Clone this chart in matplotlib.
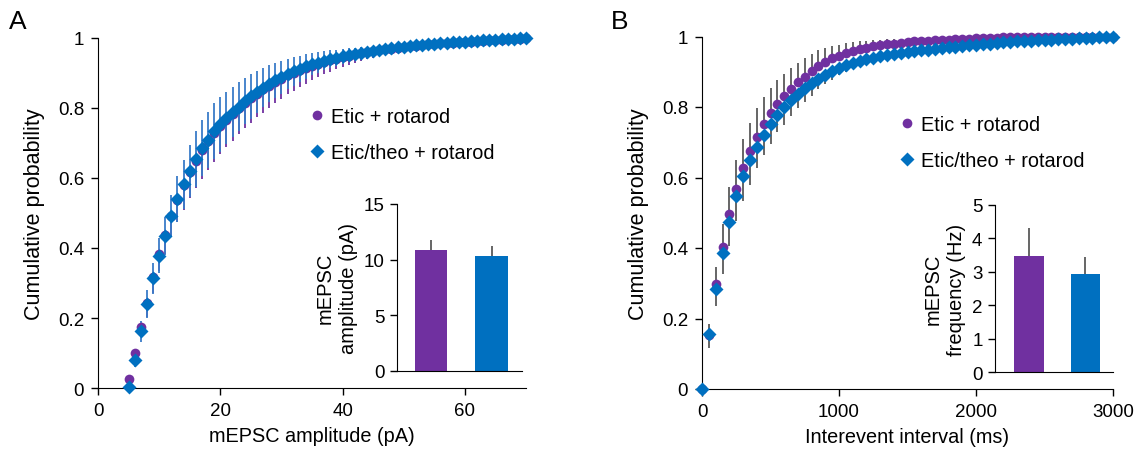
import numpy as np
import matplotlib
matplotlib.use("Agg")
import matplotlib.pyplot as plt
from matplotlib.lines import Line2D

plt.rcParams['font.family'] = ['Liberation Sans', 'DejaVu Sans']

purple = '#7030A0'
blue = '#0070C0'
grey = '#595959'

# panel A: cumulative mEPSC amplitude, 5..70 pA
amp_x = list(range(5, 71))
amp_etic = [0.026, 0.10, 0.175, 0.243, 0.316, 0.383, 0.438, 0.492, 0.538, 0.579, 0.617, 0.650,
            0.680, 0.705, 0.728, 0.748, 0.766, 0.783, 0.799, 0.814, 0.828, 0.841, 0.853, 0.864,
            0.874, 0.884, 0.893, 0.901, 0.908, 0.915, 0.921, 0.927, 0.932, 0.937, 0.941, 0.945,
            0.949, 0.953, 0.956, 0.959, 0.962, 0.965, 0.968, 0.970, 0.972, 0.974, 0.976, 0.978,
            0.980, 0.982, 0.983, 0.985, 0.986, 0.987, 0.988, 0.989, 0.990, 0.991, 0.992, 0.993,
            0.994, 0.995, 0.996, 0.997, 0.998, 1.0]
amp_theo = [0.002, 0.08, 0.162, 0.240, 0.313, 0.378, 0.435, 0.492, 0.540, 0.582, 0.620, 0.655,
            0.685, 0.710, 0.733, 0.753, 0.771, 0.788, 0.804, 0.819, 0.833, 0.846, 0.858, 0.869,
            0.879, 0.888, 0.897, 0.905, 0.912, 0.919, 0.925, 0.930, 0.935, 0.940, 0.944, 0.948,
            0.952, 0.955, 0.958, 0.961, 0.964, 0.967, 0.969, 0.971, 0.973, 0.975, 0.977, 0.979,
            0.981, 0.983, 0.984, 0.986, 0.987, 0.988, 0.989, 0.990, 0.991, 0.992, 0.993, 0.994,
            0.995, 0.996, 0.997, 0.998, 0.999, 1.0]
amp_etic_err = [0.01, 0.02, 0.03, 0.04, 0.045, 0.05, 0.055, 0.06, 0.065, 0.07, 0.075, 0.08,
                0.082, 0.082, 0.082, 0.08, 0.078, 0.076, 0.074, 0.072, 0.07, 0.068, 0.066, 0.063,
                0.06, 0.057, 0.054, 0.051, 0.048, 0.045, 0.042, 0.039, 0.036, 0.033, 0.03, 0.028,
                0.026, 0.024, 0.022, 0.02, 0.018, 0.016, 0.014, 0.012, 0.01, 0.009, 0.008, 0.007,
                0.006, 0.005, 0.004, 0.004, 0.003, 0.003, 0.002, 0.002, 0.002, 0.001, 0.001, 0.001,
                0.001, 0.0, 0.0, 0.0, 0.0, 0.0]
amp_theo_err = [0.005, 0.02, 0.03, 0.04, 0.045, 0.05, 0.055, 0.06, 0.065, 0.07, 0.075, 0.08,
                0.08, 0.08, 0.08, 0.078, 0.075, 0.072, 0.07, 0.066, 0.063, 0.06, 0.056, 0.053,
                0.05, 0.047, 0.044, 0.041, 0.038, 0.035, 0.032, 0.03, 0.027, 0.025, 0.023, 0.021,
                0.019, 0.017, 0.015, 0.013, 0.011, 0.01, 0.009, 0.008, 0.007, 0.006, 0.005, 0.004,
                0.004, 0.003, 0.003, 0.002, 0.002, 0.002, 0.001, 0.001, 0.001, 0.001, 0.0, 0.0,
                0.0, 0.0, 0.0, 0.0, 0.0, 0.0]

# panel B: cumulative interevent interval, 0..3000 ms
iei_x = list(range(0, 3001, 50))
iei_etic = [0.0, 0.154, 0.297, 0.402, 0.496, 0.568, 0.626, 0.675, 0.716, 0.751, 0.782, 0.808,
            0.830, 0.851, 0.870, 0.886, 0.902, 0.916, 0.928, 0.938, 0.946, 0.953, 0.959, 0.964,
            0.968, 0.972, 0.975, 0.978, 0.980, 0.982, 0.984, 0.986, 0.987, 0.988, 0.989, 0.990,
            0.991, 0.992, 0.993, 0.994, 0.995, 0.996, 0.997, 0.997, 0.998, 0.998, 0.999, 0.999,
            1.0, 1.0, 1.0, 1.0, 1.0, 1.0, 1.0, 1.0, 1.0, 1.0, 1.0, 1.0, 1.0]
iei_theo = [0.0, 0.157, 0.285, 0.386, 0.475, 0.548, 0.604, 0.650, 0.686, 0.721, 0.751, 0.778,
            0.800, 0.820, 0.838, 0.853, 0.867, 0.880, 0.892, 0.903, 0.912, 0.919, 0.925, 0.930,
            0.935, 0.940, 0.944, 0.948, 0.951, 0.954, 0.957, 0.959, 0.961, 0.963, 0.965, 0.967,
            0.969, 0.971, 0.973, 0.975, 0.977, 0.979, 0.980, 0.982, 0.983, 0.985, 0.986, 0.987,
            0.988, 0.989, 0.990, 0.991, 0.992, 0.993, 0.994, 0.995, 0.996, 0.997, 0.998, 0.999, 1.0]
iei_etic_err = [0.0, 0.03, 0.048, 0.065, 0.077, 0.082, 0.082, 0.08, 0.08, 0.078, 0.072, 0.07,
                0.063, 0.06, 0.056, 0.052, 0.048, 0.045, 0.04, 0.035, 0.03, 0.028, 0.025, 0.022,
                0.02, 0.018, 0.016, 0.014, 0.012, 0.011, 0.01, 0.009, 0.008, 0.007, 0.006, 0.006,
                0.005, 0.005, 0.004, 0.004, 0.003, 0.003, 0.003, 0.002, 0.002, 0.002, 0.001, 0.001,
                0.0, 0.0, 0.0, 0.0, 0.0, 0.0, 0.0, 0.0, 0.0, 0.0, 0.0, 0.0, 0.0]
iei_theo_err = [0.0, 0.04, 0.05, 0.06, 0.07, 0.07, 0.07, 0.07, 0.06, 0.057, 0.055, 0.05,
                0.05, 0.045, 0.04, 0.04, 0.035, 0.03, 0.028, 0.025, 0.022, 0.02, 0.018, 0.016,
                0.015, 0.013, 0.012, 0.011, 0.01, 0.009, 0.008, 0.007, 0.006, 0.006, 0.005, 0.005,
                0.004, 0.004, 0.004, 0.003, 0.003, 0.003, 0.002, 0.002, 0.002, 0.002, 0.001, 0.001,
                0.001, 0.001, 0.001, 0.0, 0.0, 0.0, 0.0, 0.0, 0.0, 0.0, 0.0, 0.0, 0.0]

# insets: mean +/- SEM
groups = ['Etic + rotarod', 'Etic/theo + rotarod']
amp_mean = [10.9, 10.35]
amp_sem = [0.85, 0.9]
freq_mean = [3.48, 2.92]
freq_sem = [0.83, 0.52]

W, H = 1140, 456
fig = plt.figure(figsize=(W / 100, H / 100), dpi=100)

TICK = 13.5
XLAB = 14.3
YLAB = 15.5
LEG = 14.3
INS = 14.5


def fr(l, b, r, t):
    return [l / W, 1 - b / H, (r - l) / W, (b - t) / H]


def style_main(ax):
    for s in ['top', 'right']:
        ax.spines[s].set_visible(False)
    ax.tick_params(direction='out', length=5, width=1, labelsize=TICK, pad=5)
    ax.set_ylim(0, 1)
    ax.set_yticks([0, 0.2, 0.4, 0.6, 0.8, 1])
    ax.set_yticklabels(['0', '0.2', '0.4', '0.6', '0.8', '1'])
    ax.set_ylabel('Cumulative probability', fontsize=YLAB, labelpad=9)


def style_inset(ax, ymax, ticks, label):
    ax.patch.set_alpha(0)
    for s in ['top', 'right']:
        ax.spines[s].set_visible(False)
    ax.set_xticks([])
    ax.set_ylim(0, ymax)
    ax.set_yticks(ticks)
    ax.tick_params(direction='out', length=5, width=1, labelsize=TICK, pad=4)
    ax.set_ylabel(label, fontsize=INS, labelpad=4, linespacing=1.3)


# ---- panel A
axA = fig.add_axes(fr(98, 389, 526, 39))
axA.errorbar(amp_x, amp_etic, yerr=[amp_etic_err, [0] * len(amp_x)], fmt='none',
             ecolor=purple, elinewidth=1.3, zorder=1, clip_on=False)
axA.errorbar(amp_x, amp_theo, yerr=amp_theo_err, fmt='none',
             ecolor='#3A7CC8', elinewidth=1.3, zorder=2, clip_on=False)
axA.plot(amp_x, amp_etic, 'o', color=purple, ms=7, mec='none', zorder=3, clip_on=False)
axA.plot(amp_x, amp_theo, 'D', color=blue, ms=7.5, mec='none', zorder=4, clip_on=False)
axA.set_xlim(0, 70)
axA.set_xticks([0, 20, 40, 60])
style_main(axA)
axA.set_xlabel('mEPSC amplitude (pA)', fontsize=XLAB, labelpad=5)

hA = [Line2D([], [], marker='o', ls='none', color=purple, ms=7, mec='none'),
      Line2D([], [], marker='D', ls='none', color=blue, ms=7.5, mec='none')]
axA.legend(hA, groups, loc='upper left', bbox_to_anchor=(0.465, 0.825), frameon=False,
           fontsize=LEG, handletextpad=0.1, labelspacing=0.85, handlelength=1.2,
           borderaxespad=0)

insA = fig.add_axes(fr(397, 372, 522, 205))
insA.bar([0, 1], amp_mean, width=0.53, color=[purple, blue], zorder=1)
insA.errorbar([0, 1], amp_mean, yerr=[[0, 0], amp_sem], fmt='none', ecolor=grey,
              elinewidth=1.3, zorder=0)
insA.set_xlim(-0.562, 1.504)
style_inset(insA, 15, [0, 5, 10, 15], 'mEPSC\namplitude (pA)')

# ---- panel B
axB = fig.add_axes(fr(702, 390, 1113, 37.5))
axB.errorbar(iei_x, iei_etic, yerr=[[0] * len(iei_x), iei_etic_err], fmt='none',
             ecolor=grey, elinewidth=1.3, zorder=1, clip_on=False)
axB.errorbar(iei_x, iei_theo, yerr=[iei_theo_err, [0] * len(iei_x)], fmt='none',
             ecolor=grey, elinewidth=1.3, zorder=2, clip_on=False)
axB.plot(iei_x, iei_etic, 'o', color=purple, ms=7, mec='none', zorder=3, clip_on=False)
axB.plot(iei_x, iei_theo, 'D', color=blue, ms=7.5, mec='none', zorder=4, clip_on=False)
axB.set_xlim(0, 3000)
axB.set_xticks([0, 1000, 2000, 3000])
style_main(axB)
axB.set_xlabel('Interevent interval (ms)', fontsize=XLAB, labelpad=5)

hB = [Line2D([], [], marker='o', ls='none', color=purple, ms=7, mec='none'),
      Line2D([], [], marker='D', ls='none', color=blue, ms=7.5, mec='none')]
axB.legend(hB, groups, loc='upper left', bbox_to_anchor=(0.45, 0.80), frameon=False,
           fontsize=LEG, handletextpad=0.1, labelspacing=0.85, handlelength=1.2,
           borderaxespad=0)

insB = fig.add_axes(fr(995, 373, 1113, 206))
insB.bar([0, 1], freq_mean, width=0.53, color=[purple, blue], zorder=1)
insB.errorbar([0, 1], freq_mean, yerr=[[0, 0], freq_sem], fmt='none', ecolor=grey,
              elinewidth=1.3, zorder=0)
insB.set_xlim(-0.601, 1.487)
style_inset(insB, 5, [0, 1, 2, 3, 4, 5], 'mEPSC\nfrequency (Hz)')

fig.text(18 / W, 1 - 22 / H, 'A', fontsize=19, ha='center', va='center')
fig.text(620 / W, 1 - 22 / H, 'B', fontsize=19, ha='center', va='center')

fig.savefig('out.png', dpi=100)
